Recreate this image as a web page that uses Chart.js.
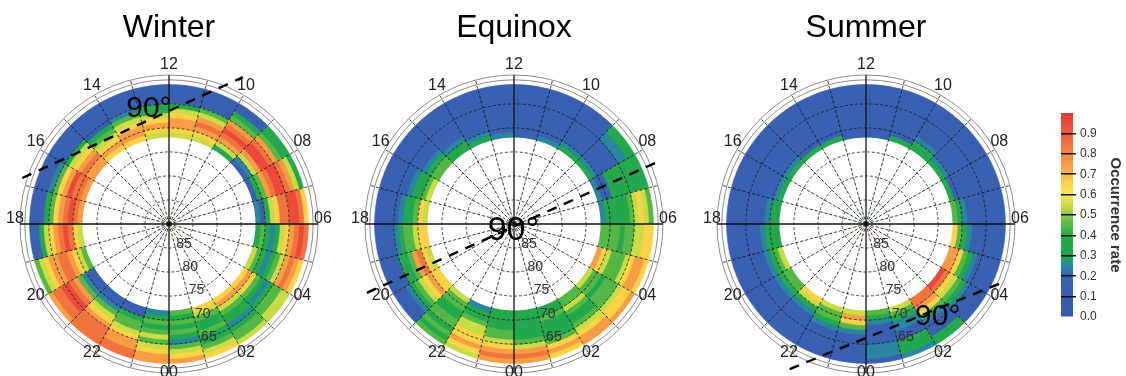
<!DOCTYPE html>
<html>
<head>
<meta charset="utf-8">
<script src="https://cdn.jsdelivr.net/npm/chart.js@4.4.1/dist/chart.umd.min.js"></script>
<style>
  html, body { margin: 0; padding: 0; background: #fff; overflow: hidden; }
  body { width: 1126px; height: 376px; position: relative; }
  canvas { position: absolute; top: 0; }
</style>
</head>
<body>
<canvas id="winter" width="340" height="376" style="left:-1px"></canvas>
<canvas id="equinox" width="340" height="376" style="left:344px"></canvas>
<canvas id="summer" width="340" height="376" style="left:696px"></canvas>
<canvas id="colorbar" width="86" height="240" style="left:1040px; top:90px"></canvas>
<script>
// MLT sectors, clockwise from noon at the top (each one hour wide)
const mltLabels = ['12', '11', '10', '09', '08', '07', '06', '05', '04', '03', '02', '01',
                   '00', '23', '22', '21', '20', '19', '18', '17', '16', '15', '14', '13'];
// lower edge of each 1-degree latitude band, poleward first
const latBands = [71, 70, 69, 68, 67, 66, 65, 64, 63, 62, 61];
const capLat = 72;            // no data poleward of this
const gridLats = [90, 85, 80, 75, 70, 65, 60, 59];
const latLabels = [85, 80, 75, 70, 65];
const rateTicks = [0.0, 0.1, 0.2, 0.3, 0.4, 0.5, 0.6, 0.7, 0.8, 0.9];

// occurrence rate per sector: one char per band (71..61), digit d = rate d/10 .. (d+1)/10
const winterRate = [
  '56776531111', '56787541111', '35789874311', '12579987433', '13478998753', '21356889986',
  '34323567898', '54323457876', '67643234455', '67543323445', '65433433456', '43434324567',
  '23434545677', '11344567788', '11245678888', '11247899887', '45678877654', '56898765311',
  '78987643111', '78897642111', '77876531111', '67654311111', '67765421111', '56765331111'
];
const equinoxRate = [
  '11111111111', '21111111111', '32111111111', '32111112233', '21133333333', '23333345654',
  '44443445566', '76544456776', '54434445667', '44543345677', '33433334676', '33333345787',
  '33334456787', '23345566765', '54433443434', '66765432111', '56874331111', '66544321111',
  '56433211111', '54332111111', '44321111111', '33211111111', '32111111111', '21111111111'
];
const summerRate = [
  '11111111111', '31111111111', '33211111111', '32111111111', '31111111111', '43211111111',
  '64321111111', '77643211111', '98654321111', '88764211133', '54322113332', '43211112221',
  '57642111111', '54432111111', '65321111111', '44321111111', '54321111111', '33321111111',
  '33211111111', '32111111111', '32111111111', '31111111111', '31111111111', '11111111111'
];

// 90 deg solar zenith line: two [MLT, MLAT] points, and where its label sits
const winterTerminator = [[16.84, 58.0], [10.22, 55.8]];
const equinoxTerminator = [[19.67, 56.2], [7.56, 57.6]];
const summerTerminator = [[22.15, 55.9], [4.47, 59.0]];
const winterSun = [12.85, 65.4];
const equinoxSun = [20.84, 87.9];
const summerSun = [2.35, 66.3];

const FONT = '"Liberation Sans", Arial, sans-serif';
const latLabelMlt = 1.0;

const colorStops = [
  [0.00, '#3d57a7'], [0.10, '#3b5cb0'], [0.20, '#3863b3'], [0.25, '#2a86a0'],
  [0.30, '#1ea450'], [0.40, '#27ac4a'], [0.47, '#67bd45'], [0.53, '#b6d544'],
  [0.60, '#f7ec4a'], [0.65, '#fcd348'], [0.72, '#f9a947'], [0.80, '#f48a42'],
  [0.87, '#f06a3b'], [0.95, '#eb4a3a'], [1.00, '#e8363a']
];

const hexRgb = (h) => [1, 3, 5].map((i) => parseInt(h.substr(i, 2), 16));

const colorAt = (v) => {
  for (let i = 1; i < colorStops.length; i++) {
    const [v1, c1] = colorStops[i];
    if (v <= v1) {
      const [v0, c0] = colorStops[i - 1];
      const t = (v - v0) / (v1 - v0);
      const a = hexRgb(c0), b = hexRgb(c1);
      return 'rgb(' + a.map((x, k) => Math.round(x + (b[k] - x) * t)).join(',') + ')';
    }
  }
  return colorStops[colorStops.length - 1][1];
};

const rateColor = (ch) => (ch === '.' ? '#ffffff' : colorAt((Number(ch) + 0.5) / 10));

const dialText = {
  id: 'dialText',
  afterDraw(chart, args, opts) {
    const sc = chart.scales.r;
    const ctx = chart.ctx;
    const at = (mlt, lat) =>
      sc.getPointPosition((36 - mlt) % 24, sc.getDistanceFromCenterForValue(90 - lat));
    ctx.save();
    ctx.textAlign = 'center';
    ctx.textBaseline = 'middle';
    ctx.fillStyle = '#222';
    ctx.font = '16px ' + FONT;
    chart.data.labels.forEach((lab, i) => {
      if (Number(lab) % 2) return;
      const p = sc.getPointPosition(i, sc.drawingArea + 5);
      ctx.fillText(lab, p.x, p.y - 5);
    });

    ctx.font = '14px ' + FONT;
    ctx.textAlign = 'left';
    ctx.fillStyle = '#333';
    latLabels.forEach((lat) => {
      const p = at(latLabelMlt, lat);
      ctx.fillText(String(lat), p.x + 1, p.y - 3);
    });

    const [a, b] = opts.terminator.map(([m, l]) => at(m, l));
    ctx.setLineDash([10, 8]);
    ctx.lineWidth = 2.4;
    ctx.strokeStyle = '#000';
    ctx.beginPath();
    ctx.moveTo(a.x, a.y);
    ctx.lineTo(b.x, b.y);
    ctx.stroke();
    ctx.setLineDash([]);

    const s = at(opts.sun[0], opts.sun[1]);
    ctx.font = opts.sunSize + 'px ' + FONT;
    ctx.fillStyle = '#000';
    const half = ctx.measureText('90').width / 2;
    ctx.fillText('90\u00b0', s.x - half, s.y);
    ctx.restore();
  }
};

const makeDial = (id, title, sectors, terminator, sun, sunSize) => {
  const datasets = [{
    data: mltLabels.map(() => 90 - capLat),
    backgroundColor: '#ffffff',
    borderWidth: 0
  }];
  latBands.forEach((lat, k) => {
    const colors = sectors.map((s) => rateColor(s[k]));
    datasets.push({
      data: mltLabels.map(() => 90 - lat),
      backgroundColor: colors,
      borderColor: colors,
      borderWidth: 0.7
    });
  });

  return new Chart(document.getElementById(id), {
    type: 'polarArea',
    data: { labels: mltLabels, datasets },
    options: {
      responsive: false,
      animation: false,
      events: [],
      layout: { padding: { left: 21, right: 21, top: 0, bottom: 3 } },
      plugins: {
        legend: { display: false },
        tooltip: { enabled: false },
        title: {
          display: true,
          text: title,
          color: '#000',
          font: { family: FONT, size: 32, weight: 'normal' },
          padding: { top: 9, bottom: 27.6 }
        },
        dialText: { terminator, sun, sunSize }
      },
      scales: {
        r: {
          min: 0,
          max: 90 - gridLats[gridLats.length - 1],
          startAngle: 0,
          afterBuildTicks: (scale) => {
            scale.ticks = gridLats.map((l) => ({ value: 90 - l }));
          },
          ticks: { display: false },
          pointLabels: { display: false },
          grid: {
            circular: true,
            z: 1,
            color: (c) => (90 - c.tick.value <= 60 ? '#8c8c8c' : '#1a1a1a'),
            lineWidth: (c) => (90 - c.tick.value <= 60 ? 1 : 0.8)
          },
          border: { dash: (c) => (90 - c.tick.value <= 60 ? [] : [3, 2]) },
          angleLines: {
            display: true,
            color: '#111',
            lineWidth: (c) => (c.index % 6 ? 0.8 : 1.3),
            borderDash: (c) => (c.index % 6 ? [3, 2] : [])
          }
        }
      }
    },
    plugins: [dialText]
  });
};

makeDial('winter', 'Winter', winterRate, winterTerminator, winterSun, 30);
makeDial('equinox', 'Equinox', equinoxRate, equinoxTerminator, equinoxSun, 34);
makeDial('summer', 'Summer', summerRate, summerTerminator, summerSun, 30);

new Chart(document.getElementById('colorbar'), {
  type: 'bar',
  data: {
    labels: ['rate'],
    datasets: [{
      data: [1],
      backgroundColor: (c) => {
        const { ctx, chartArea } = c.chart;
        if (!chartArea) return colorAt(0.5);
        const g = ctx.createLinearGradient(0, chartArea.bottom, 0, chartArea.top);
        colorStops.forEach(([v, col]) => g.addColorStop(v, col));
        return g;
      },
      borderWidth: 0,
      barPercentage: 1,
      categoryPercentage: 1
    }]
  },
  options: {
    responsive: false,
    animation: false,
    events: [],
    layout: { padding: { left: 21, right: 0, top: 23, bottom: 13 } },
    plugins: { legend: { display: false }, tooltip: { enabled: false } },
    scales: {
      x: { display: false },
      y: {
        position: 'right',
        min: 0,
        max: 1,
        afterBuildTicks: (scale) => {
          scale.ticks = rateTicks.map((v) => ({ value: v }));
        },
        afterFit: (scale) => { scale.width = 53; },
        grid: {
          z: 1,
          color: (c) => (c.tick.value === 0 ? 'rgba(0,0,0,0)' : '#111'),
          lineWidth: 1.5,
          tickLength: 3
        },
        border: { display: false },
        ticks: {
          color: '#333',
          padding: 4,
          font: { family: FONT, size: 12 },
          callback: (v) => v.toFixed(1)
        },
        title: {
          display: true,
          text: 'Occurrence rate',
          color: '#333',
          font: { family: FONT, size: 15, weight: 'bold' },
          padding: { top: 2, bottom: 0 }
        }
      }
    }
  }
});
</script>
</body>
</html>
